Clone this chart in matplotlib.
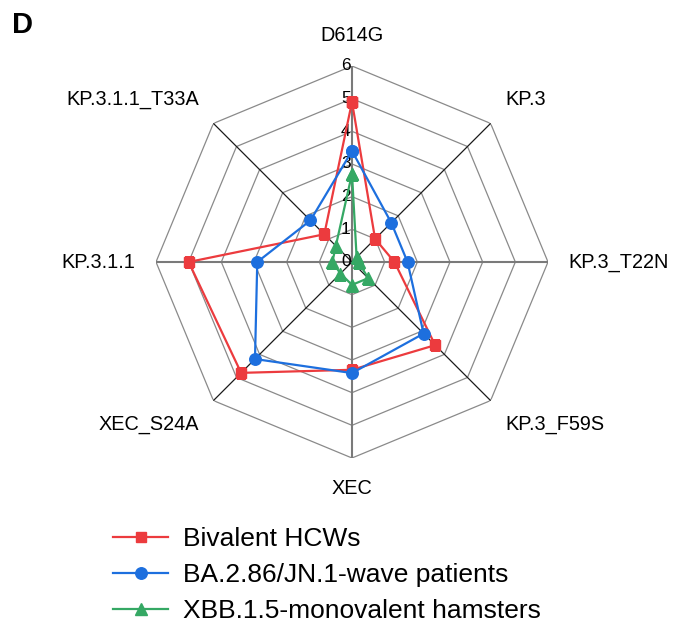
import numpy as np
from matplotlib import pyplot as plt

plt.rcParams['font.family'] = ['Liberation Sans', 'DejaVu Sans']

# radar data, clockwise from top
labels = ['D614G', 'KP.3', 'KP.3_T22N', 'KP.3_F59S', 'XEC', 'XEC_S24A',
          'KP.3.1.1', 'KP.3.1.1_T33A']
bivalent = [4.9, 1.0, 1.3, 3.6, 3.3, 4.8, 5.0, 1.2]
ba286 = [3.4, 1.7, 1.7, 3.1, 3.4, 4.2, 2.9, 1.8]
xbb = [2.7, 0.2, 0.2, 0.7, 0.7, 0.5, 0.6, 0.7]
series_names = ['Bivalent HCWs', 'BA.2.86/JN.1-wave patients',
                'XBB.1.5-monovalent hamsters']
rings = [1, 2, 3, 4, 5, 6]

n = len(labels)
angles = np.linspace(0, 2 * np.pi, n, endpoint=False)
closed = np.append(angles, angles[0])

fig = plt.figure(figsize=(6.81, 6.25), dpi=100)
ax = fig.add_axes([156 / 681, 1 - 458 / 625, 392 / 681, 392 / 625], polar=True)
ax.set_theta_offset(np.pi / 2)
ax.set_theta_direction(-1)
ax.set_ylim(0, 6)
ax.set_xticks([])
ax.set_yticks([])
ax.grid(False)
ax.spines['polar'].set_visible(False)
ax.patch.set_alpha(0)

# octagon rings
for r in rings:
    ax.plot(closed, [r] * (n + 1), color='#8a8a8a', lw=0.9, zorder=1)
# spokes
for i, a in enumerate(angles):
    if i % 2 == 0:
        ax.plot([a, a], [0, 6], color='#7a7a7a', lw=1.5, zorder=1)
    else:
        ax.plot([a, a], [0, 6], color='#1a1a1a', lw=0.9, zorder=1)

# radial tick labels
for r in [0] + rings:
    ax.annotate(str(r), (0, r), xytext=(-1, 0), textcoords='offset points',
                ha='right', va='center', fontsize=12.5, zorder=2)

# category labels
align = [('center', 'bottom'), ('left', 'bottom'), ('left', 'center'),
         ('left', 'top'), ('center', 'top'), ('right', 'top'),
         ('right', 'center'), ('right', 'bottom')]
for a, lab, (ha, va) in zip(angles, labels, align):
    ax.text(a, 6.63, lab, ha=ha, va=va, fontsize=14.3)

h1, = ax.plot(closed, bivalent + bivalent[:1], color='#EC3B3E', lw=1.6,
              marker='s', markersize=7.5, zorder=3, label=series_names[0])
h2, = ax.plot(closed, ba286 + ba286[:1], color='#1D6FDE', lw=1.6,
              marker='o', markersize=8.3, zorder=4, label=series_names[1])
h3, = ax.plot(closed, xbb + xbb[:1], color='#35A864', lw=1.6,
              marker='^', markersize=8.3, zorder=5, label=series_names[2])

fig.legend(handles=[h1, h2, h3], loc='upper left',
           bbox_to_anchor=(113 / 681, 1 - 527 / 625), frameon=False,
           fontsize=19, handlelength=2.1, handletextpad=0.55,
           labelspacing=0.45, borderpad=0, borderaxespad=0)

fig.text(12 / 681, 1 - 25 / 625, 'D', fontsize=21, fontweight='bold',
         ha='left', va='center')

plt.savefig('out.png', dpi=100)
